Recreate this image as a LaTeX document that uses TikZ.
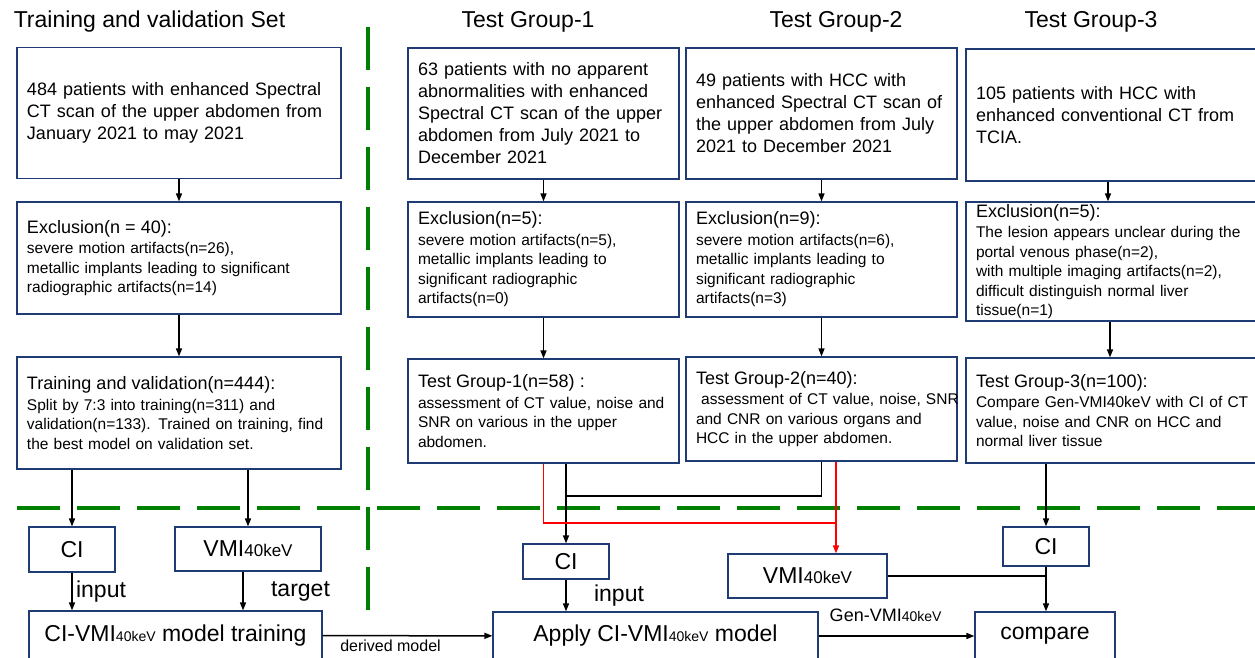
\documentclass[tikz,border=0pt]{standalone}
\usepackage{fontspec}
\setmainfont{Liberation Sans}
\usetikzlibrary{arrows.meta}
\definecolor{navy}{HTML}{1F3B73}
\definecolor{sepgreen}{RGB}{0,128,0}
\newcommand{\kev}[1]{{\fontsize{#1}{#1}\selectfont 40keV}}
\newcommand{\head}[1]{{\fontsize{18}{22}\selectfont #1}\\[1pt]}
\begin{document}
\begin{tikzpicture}[x=1pt,y=-1pt,
	every node/.style={font=\fontsize{18}{22}\selectfont},
	box/.style={draw=navy,line width=1.2pt,align=left,inner xsep=10pt,inner ysep=2pt},
	small/.style={box,font=\fontsize{15.5}{19.5}\selectfont},
	lbl/.style={font=\fontsize{23}{26}\selectfont},
	tag/.style={draw=navy,line width=1.2pt,inner sep=0pt,font=\fontsize{23}{26}\selectfont},
	link/.style={line width=1.5pt},
	arr/.style={link,-{Triangle[length=8pt,width=6pt]}},
	sep/.style={draw=sepgreen,line width=4.5pt,dash pattern=on 43pt off 17pt}]
\useasboundingbox (0,0) rectangle (1255,658);
\node[lbl] (h1) at (149.5,22) {Training and validation Set};
\node[lbl] (h2) at (528,22) {Test Group-1};
\node[lbl] (h3) at (836,22) {Test Group-2};
\node[lbl] (h4) at (1091,22) {Test Group-3};
\draw[sep] (368,27) -- (368,612);
\draw[sep] (17,508) -- (1255,508);
\node[box,text width=304pt,minimum height=131pt] (p1) at (179,113) {484 patients with enhanced Spectral\\CT scan of the upper abdomen from\\January 2021 to may 2021};
\node[small,text width=304pt,minimum height=112pt] (e1) at (179,258) {\head{Exclusion(n = 40):}severe motion artifacts(n=26),\\metallic implants leading to significant\\radiographic artifacts(n=14)};
\node[small,text width=304pt,minimum height=112pt] (t1) at (179,413) {\head{Training and validation(n=444):}Split by 7:3 into training(n=311) and\\validation(n=133). Trained on training, find\\the best model on validation set.};
\node[box,text width=251pt,minimum height=131pt] (p2) at (543.5,113.5) {63 patients with no apparent\\abnormalities with enhanced\\Spectral CT scan of the upper\\abdomen from July 2021 to\\December 2021};
\node[small,text width=251pt,minimum height=115pt] (e2) at (543.5,259.5) {\head{Exclusion(n=5):}severe motion artifacts(n=5),\\metallic implants leading to\\significant radiographic\\artifacts(n=0)};
\node[small,text width=251pt,minimum height=104pt] (t2) at (543.5,411) {\head{Test Group-1(n=58) :}assessment of CT value, noise and\\SNR on various in the upper\\abdomen.};
\node[box,text width=251pt,minimum height=131pt] (p3) at (821.5,113.5) {49 patients with HCC with\\enhanced Spectral CT scan of\\the upper abdomen from July\\2021 to December 2021};
\node[small,text width=251pt,minimum height=115pt] (e3) at (821.5,259.5) {\head{Exclusion(n=9):}severe motion artifacts(n=6),\\metallic implants leading to\\significant radiographic\\artifacts(n=3)};
\node[small,text width=251pt,minimum height=104pt] (t3) at (821.5,409) {\head{Test Group-2(n=40):}\mbox{\ assessment of CT value, noise, SNR}\\and CNR on various organs and\\HCC in the upper abdomen.};
\node[box,text width=279pt,minimum height=132pt] (p4) at (1115.5,115) {105 patients with HCC with\\enhanced conventional CT from\\TCIA.};
\node[small,text width=279pt,minimum height=119pt,inner ysep=0pt] (e4) at (1115.5,261.5) {\head{Exclusion(n=5):}The lesion appears unclear during the\\portal venous phase(n=2),\\with multiple imaging artifacts(n=2),\\difficult distinguish normal liver\\tissue(n=1)};
\node[small,text width=279pt,minimum height=105pt] (t4) at (1115.5,410.5) {\head{Test Group-3(n=100):}Compare Gen-VMI40keV with CI of CT\\value, noise and CNR on HCC and\\normal liver tissue};
\node[tag,minimum width=86pt,minimum height=45pt] (cia) at (72,549.5) {CI};
\node[tag,minimum width=146pt,minimum height=44pt] (vmia) at (248,549) {VMI\kev{17}};
\node[tag,minimum width=293pt,minimum height=49pt] (train) at (175.5,635.5) {CI-VMI\kev{14} model training};
\node[tag,minimum width=86pt,minimum height=35pt] (cib) at (566,561.5) {CI};
\node[tag,minimum width=159pt,minimum height=44pt] (vmib) at (807.5,576) {VMI\kev{17}};
\node[tag,minimum width=325pt,minimum height=48pt] (apply) at (655.5,636) {Apply CI-VMI\kev{14} model};
\node[tag,minimum width=86pt,minimum height=39pt] (cic) at (1046,546.5) {CI};
\node[tag,minimum width=140pt,minimum height=48pt] (compare) at (1045,636) {compare};
\coordinate (m1) at (566,496);
\coordinate (r1) at (836,523);
\draw[arr] (p1) -- (e1);
\draw[arr] (e1) -- (t1);
\draw[arr] (p2) -- (e2);
\draw[arr] (e2) -- (t2);
\draw[arr] (p3) -- (e3);
\draw[arr] (e3) -- (t3);
\draw[arr] ([xshift=-7.5pt]p4.south) -- ([xshift=-7.5pt]e4.north);
\draw[arr] ([xshift=-5.5pt]e4.south) -- ([xshift=-5.5pt]t4.north);
\draw[arr] (t1.south -| cia) -- (cia);
\draw[arr] (t1.south -| vmia) -- (vmia);
\draw[arr] (cia) -- (cia |- train.north) node[lbl,midway,right] {input};
\draw[arr] ([xshift=-5pt]vmia.south) -- ([xshift=-5pt]vmia.south |- train.north) node[lbl,midway,right=24pt] {target};
\draw[arr] (train) -- (apply) node[font=\fontsize{16}{18}\selectfont,below,pos=0.4] {derived model};
\draw[arr] (t2.south -| cib) -- (cib);
\draw[link] (t3.south) |- (m1);
\draw[link,red] (t2.south) |- (r1);
\draw[arr,red] (t3.south -| r1) -- (vmib.north -| r1);
\draw[arr] (cib) -- (cib |- apply.north) node[lbl,midway,right=24pt] {input};
\draw[arr] (t4.south -| cic) -- (cic);
\draw[arr] (cic) -- (cic |- compare.north);
\draw[link] (vmib) -- (vmib -| cic);
\draw[arr] (apply) -- (compare) node[above=10pt,pos=0.43] {Gen-VMI\kev{14}};
\end{tikzpicture}
\end{document}
